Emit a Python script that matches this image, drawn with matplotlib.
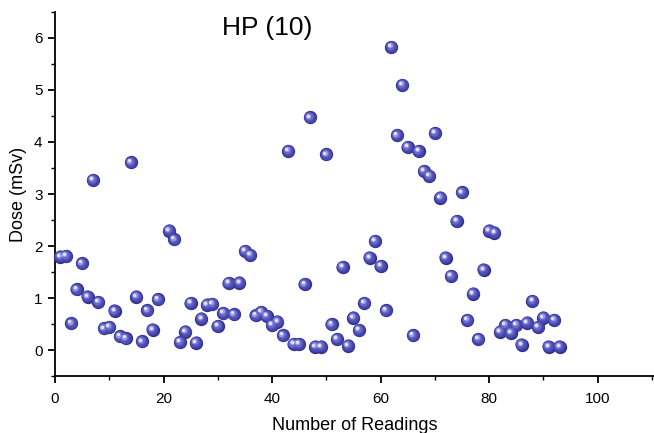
import matplotlib
matplotlib.use("Agg")
import matplotlib.pyplot as plt
import matplotlib.transforms as mtransforms

readings = [1, 2, 3, 4, 5, 6, 7, 8, 9, 10,
            11, 12, 13, 14, 15, 16, 17, 18, 19, 21,
            22, 23, 24, 25, 26, 27, 28, 29, 30, 31,
            32, 33, 34, 35, 36, 37, 38, 39, 40, 41,
            42, 43, 44, 45, 46, 47, 48, 49, 50, 51,
            52, 53, 54, 55, 56, 57, 58, 59, 60, 61,
            62, 63, 64, 65, 66, 67, 68, 69, 70, 71,
            72, 73, 74, 75, 76, 77, 78, 79, 80, 81,
            82, 83, 84, 85, 86, 87, 88, 89, 90, 91,
            92, 93]
dose = [1.80, 1.81, 0.52, 1.17, 1.67, 1.03, 3.27, 0.93, 0.42, 0.45,
        0.76, 0.27, 0.23, 3.61, 1.03, 0.17, 0.77, 0.40, 0.98, 2.30,
        2.13, 0.16, 0.36, 0.91, 0.15, 0.61, 0.88, 0.89, 0.47, 0.72,
        1.29, 0.69, 1.30, 1.91, 1.83, 0.67, 0.74, 0.66, 0.49, 0.55,
        0.29, 3.83, 0.12, 0.12, 1.27, 4.47, 0.07, 0.07, 3.76, 0.50,
        0.22, 1.60, 0.09, 0.63, 0.39, 0.91, 1.78, 2.10, 1.62, 0.77,
        5.82, 4.13, 5.09, 3.90, 0.29, 3.83, 3.44, 3.35, 4.17, 2.93,
        1.78, 1.43, 2.48, 3.03, 0.58, 1.09, 0.22, 1.55, 2.30, 2.26,
        0.36, 0.49, 0.34, 0.49, 0.11, 0.53, 0.95, 0.45, 0.63, 0.07,
        0.58, 0.07]

title_text = "HP (10)"
x_label = "Number of Readings"
y_label = "Dose (mSv)"

plt.rcParams['font.family'] = ['Liberation Sans', 'DejaVu Sans']

fig = plt.figure(figsize=(6.54, 4.33), dpi=100)
ax = fig.add_axes([55/654, 1 - 376.4/433, 1 - 55/654, (376.4 - 11.7)/433])

# sphere-like markers: layered circles with highlight shifted up-left
layers = [
    (92, '#30308a', 0.0, 0.0),
    (78, '#4040a8', -0.2, 0.2),
    (55, '#4e4eb6', -0.5, 0.5),
    (32, '#6868c8', -0.9, 0.9),
    (15, '#9c9ce0', -1.2, 1.2),
    (5, '#e6e6f8', -1.4, 1.4),
]
for s, c, dx, dy in layers:
    tr = mtransforms.offset_copy(ax.transData, fig=fig, x=dx, y=dy, units='points')
    ax.scatter(readings, dose, s=s, color=c, linewidths=0, transform=tr, zorder=3,
               clip_on=False)

ax.set_xlim(0, 110.4)
ax.set_ylim(-0.5, 6.5)
ax.set_xticks([0, 20, 40, 60, 80, 100])
ax.set_xticks([10, 30, 50, 70, 90, 110], minor=True)
ax.set_yticks([0, 1, 2, 3, 4, 5, 6])
ax.set_yticks([-0.5, 0.5, 1.5, 2.5, 3.5, 4.5, 5.5, 6.5], minor=True)

for side in ['top', 'right']:
    ax.spines[side].set_visible(False)
for side in ['left', 'bottom']:
    ax.spines[side].set_linewidth(1.3)

ax.tick_params(which='major', direction='out', length=5, width=1.3, labelsize=11, pad=4)
ax.tick_params(axis='x', which='major', pad=6)
ax.tick_params(which='minor', direction='out', length=3, width=1.0)

ax.set_xlabel(x_label, fontsize=13, labelpad=8)
ax.set_ylabel(y_label, fontsize=13, labelpad=5)

ax.text((267 - 55) / (654 - 55), 1 - (28 - 11.7) / (376.4 - 11.7), title_text,
        transform=ax.transAxes, ha='center', va='center', fontsize=19)

fig.savefig("out.png", dpi=100)
